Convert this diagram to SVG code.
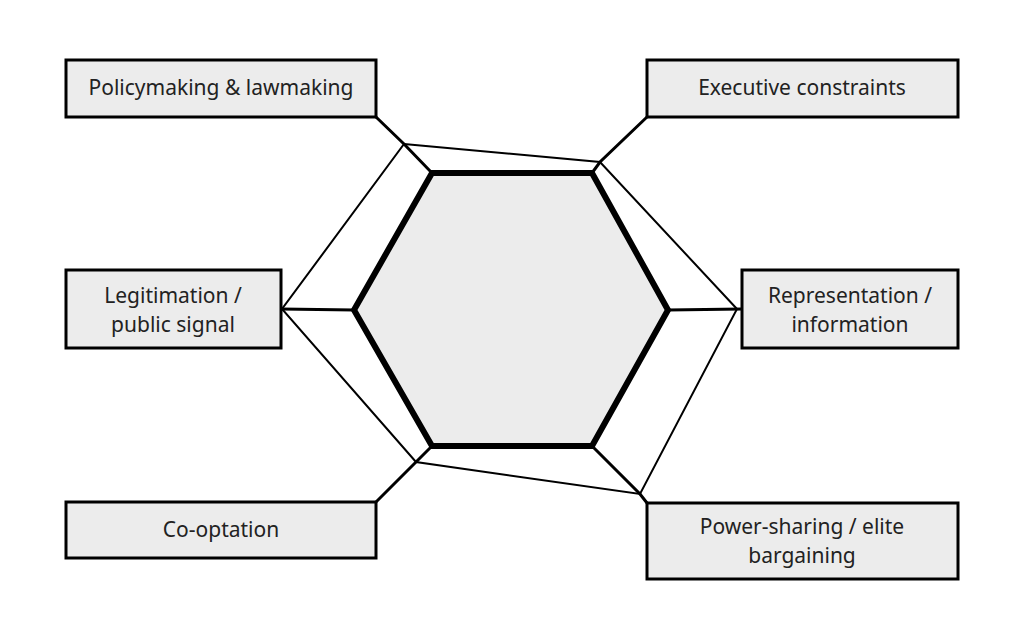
<svg xmlns="http://www.w3.org/2000/svg" width="1024" height="640" viewBox="0 0 1024 640">
<style>
.box{fill:#ececec;stroke:#000;stroke-width:3}
.hex{fill:#ececec;stroke:#000;stroke-width:6;stroke-linejoin:miter}
.spoke{fill:none;stroke:#000;stroke-width:3}
.outer{fill:none;stroke:#000;stroke-width:2;stroke-linejoin:miter}
text{font-family:"Noto Sans","Liberation Sans",sans-serif;font-size:21px;fill:#222;text-anchor:middle;dominant-baseline:central}
</style>
<rect width="1024" height="640" fill="#fff"/>
<g id="connectors">
<polygon class="outer" points="404,144 600,162 737,309 640,494 416,462 282,309"/>
<polyline class="spoke" points="376,117 404,144 432,173"/>
<polyline class="spoke" points="647,117 600,162 592,173"/>
<polyline class="spoke" points="281,309 354,310"/>
<polyline class="spoke" points="668,310 742,309"/>
<polyline class="spoke" points="376,502 416,462 432,446"/>
<polyline class="spoke" points="647,503 640,494 592,446"/>
</g>
<g id="center">
<polygon class="hex" points="432,173 592,173 668,310 592,446 432,446 354,310"/>
</g>
<g id="policymaking">
<rect class="box" x="66" y="60" width="310" height="57"/>
<text x="221" y="87">Policymaking &amp; lawmaking</text>
</g>
<g id="executive">
<rect class="box" x="647" y="60" width="311" height="57"/>
<text x="802" y="87">Executive constraints</text>
</g>
<g id="legitimation">
<rect class="box" x="66" y="270" width="215" height="78"/>
<text x="173" y="295">Legitimation /</text>
<text x="173" y="324">public signal</text>
</g>
<g id="representation">
<rect class="box" x="742" y="270" width="216" height="78"/>
<text x="850" y="295">Representation /</text>
<text x="850" y="324">information</text>
</g>
<g id="cooptation">
<rect class="box" x="66" y="502" width="310" height="56"/>
<text x="221" y="529">Co-optation</text>
</g>
<g id="powersharing">
<rect class="box" x="647" y="503" width="311" height="76"/>
<text x="802" y="526">Power-sharing / elite</text>
<text x="802" y="555">bargaining</text>
</g>
</svg>
